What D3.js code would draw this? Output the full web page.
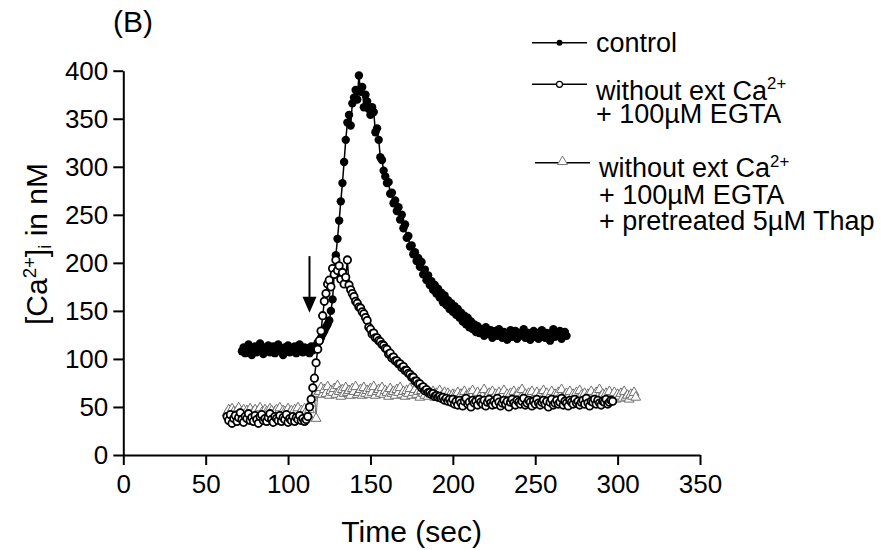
<!DOCTYPE html>
<html>
<head>
<meta charset="utf-8">
<script src="https://cdn.jsdelivr.net/npm/d3@7"></script>
<style>
  body { margin: 0; background: #fff; }
  svg { display: block; font-family: "Liberation Sans", Arial, sans-serif; }
</style>
</head>
<body>
<svg id="chart" width="881" height="550"></svg>
<script>
// axis ticks
const xTicks = [0, 50, 100, 150, 200, 250, 300, 350];
const yTicks = [0, 50, 100, 150, 200, 250, 300, 350, 400];

// sampling: one reading per second
const STEP = 1;

// control (filled circles), first reading at t = 72 s
const controlStart = 72;
const controlValues = [
  108,112,106,111,115,109,104,110,113,107,111,116,108,105,112,110,114,107,109,113,
  106,111,115,108,110,104,112,109,114,107,111,108,113,106,110,115,109,107,112,108,
  111,106,113,109,112,
  114,117,119,122,126,129,133,136,140,150,162,188,208,225,244,264,
  283,305,328,346,354,343,366,372,380,370,395,378,383,362,375,368,360,354,362,357,
  336,340,328,310,307,296,290,283,
  284,272,273,262,265,254,258,245,250,236,240,226,228,217,218,209,211,202,205,196,
  201,188,193,182,187,177,181,172,177,168,173,164,169,159,166,156,161,152,158,149,
  155,146,152,143,148,139,145,136,143,133,139,131,136,128,134,127,
  131,127,124,133,128,126,130,122,127,129,124,131,125,122,128,126,120,127,130,123,
  125,129,121,126,124,128,131,122,125,127,120,126,129,123,125,121,128,130,124,122,
  127,125,119,126,131,123,127,124,129,121,126,128,124
];

// without ext Ca2+ + 100uM EGTA (open circles), first reading at t = 63 s
const egtaStart = 63;
const egtaValues = [
  40,36,42,33,38,41,35,39,44,37,34,40,38,43,36,39,35,41,37,33,
  40,42,36,38,35,39,43,37,34,40,38,36,41,35,39,37,42,34,38,36,
  40,35,39,37,41,36,38,35,37,
  40,50,58,70,80,96,110,119,129,145,160,168,178,182,175,194,188,203,192,197,
  183,190,178,185,203,177,
  172,168,165,160,158,154,153,149,147,143,140,133,131,126,127,122,122,119,118,115,
  114,111,110,105,106,101,102,98,98,95,95,91,92,88,88,85,84,81,81,77,
  77,74,74,70,71,67,68,65,65,63,64,61,62,60,61,59,60,57,59,56,58,
  55,58,53,56,52,57,54,51,56,59,53,55,50,57,54,56,52,58,55,53,
  57,51,55,58,54,52,56,53,59,55,51,54,57,53,56,50,55,58,54,52,
  57,55,53,56,59,52,54,57,55,51,56,53,58,54,52,55,57,53,56,50,
  55,58,52,54,57,53,55,59,52,56,54,51,57,55,53,58,54,56,52,55,
  57,53,59,54,51,56,55,58,53,57,54,52,56,55,58,53,55,57,56
];

// without ext Ca2+ + EGTA + pretreated 5uM Thap (open triangles), first reading at t = 63 s
const thapStart = 63;
const thapValues = [
  44,47,42,48,45,41,46,49,43,45,47,42,46,44,48,41,45,47,43,46,
  49,44,42,47,45,43,48,46,41,45,47,44,49,42,46,45,43,48,44,46,
  42,47,45,49,43,46,44,48,45,42,
  47,54,60,63,38,64,
  66,70,63,68,64,71,62,67,65,69,63,72,66,61,68,64,70,65,67,62,
  69,66,71,63,65,68,62,70,64,67,63,69,65,71,62,66,68,64,70,63,
  67,65,61,69,64,66,62,68,65,70,63,66,61,67,64,69,62,65,68,63,
  66,60,67,64,62,68,61,65,63,66,60,64,62,67,61,63,65,59,64,62,
  60,63,
  62,58,65,60,63,57,66,61,59,64,60,67,58,62,65,59,63,61,68,57,
  62,64,59,66,60,63,58,65,61,62,67,59,63,60,64,58,66,61,62,65,
  59,68,60,63,57,64,62,66,59,61,65,60,63,58,67,61,64,59,62,66,
  60,63,57,65,61,68,59,62,64,60,66,58,63,61,65,59,67,62,60,64,
  58,63,61,66,59,62,65,60,68,61,63,57,64,60,66,59,62,65,58,63,
  61,64,59,66,60,62,58,63,61,65,60
];

// stimulus arrow: time and the value range it spans
const arrowTime = 113;
const arrowFrom = 207;
const arrowTo = 148;

const FONT = '"Liberation Sans", Arial, sans-serif';

const svg = d3.select('#chart');

const x = d3.scaleLinear().domain([0, 350]).range([123.3, 700]);
const y = d3.scaleLinear().domain([0, 400]).range([455, 70.7]);

function toSeries(start, values) {
    return values.map((v, i) => ({ t: start + i * STEP, v }));
}

const control = toSeries(controlStart, controlValues);
const egta = toSeries(egtaStart, egtaValues);
const thap = toSeries(thapStart, thapValues);

const line = d3.line().x(d => x(d.t)).y(d => y(d.v));
const triangle = d3.symbol().type(d3.symbolTriangle).size(42);

// Axes
const xAxis = svg.append('g')
    .attr('transform', `translate(0, ${y(0)})`)
    .call(d3.axisBottom(x).tickValues(xTicks).tickSize(10).tickSizeOuter(0).tickPadding(10));

const yAxis = svg.append('g')
    .attr('transform', `translate(${x(0)}, 0)`)
    .call(d3.axisLeft(y).tickValues(yTicks).tickSize(10).tickSizeOuter(0).tickPadding(5));

[xAxis, yAxis].forEach(g => {
    g.selectAll('path, line').attr('stroke', '#000').attr('stroke-width', 2);
    g.selectAll('text')
        .attr('fill', '#000')
        .attr('font-family', FONT)
        .attr('font-size', 26);
});

// Thapsigargin series (grey triangles) goes underneath
svg.append('path')
    .datum(thap)
    .attr('fill', 'none')
    .attr('stroke', '#707070')
    .attr('stroke-width', 1)
    .attr('d', line);

svg.append('g').selectAll('path')
    .data(thap)
    .enter()
    .append('path')
    .attr('transform', d => `translate(${x(d.t)}, ${y(d.v)})`)
    .attr('d', triangle)
    .attr('fill', '#fff')
    .attr('stroke', '#707070')
    .attr('stroke-width', 1);

// Control series (filled circles)
svg.append('path')
    .datum(control)
    .attr('fill', 'none')
    .attr('stroke', '#000')
    .attr('stroke-width', 1.5)
    .attr('d', line);

svg.append('g').selectAll('circle')
    .data(control)
    .enter()
    .append('circle')
    .attr('cx', d => x(d.t))
    .attr('cy', d => y(d.v))
    .attr('r', 4.2)
    .attr('fill', '#000');

// EGTA series (open circles)
svg.append('path')
    .datum(egta)
    .attr('fill', 'none')
    .attr('stroke', '#000')
    .attr('stroke-width', 1.5)
    .attr('d', line);

svg.append('g').selectAll('circle')
    .data(egta)
    .enter()
    .append('circle')
    .attr('cx', d => x(d.t))
    .attr('cy', d => y(d.v))
    .attr('r', 3.7)
    .attr('fill', '#fff')
    .attr('stroke', '#000')
    .attr('stroke-width', 1.8);

// Arrow marking the stimulus
const ax = x(arrowTime);
svg.append('line')
    .attr('x1', ax).attr('x2', ax)
    .attr('y1', y(arrowFrom)).attr('y2', y(arrowTo) - 12)
    .attr('stroke', '#000')
    .attr('stroke-width', 2);
svg.append('path')
    .attr('d', `M${ax - 7},${y(arrowTo) - 16} L${ax + 7},${y(arrowTo) - 16} L${ax},${y(arrowTo)} Z`)
    .attr('fill', '#000');

// Text helper: parts may be raised (sup) or lowered (sub)
function addText(parent, parts, size) {
    const t = parent.append('text')
        .attr('font-family', FONT)
        .attr('font-size', size)
        .attr('fill', '#000');
    let shift = 0;
    parts.forEach(p => {
        const span = t.append('tspan').text(p.text);
        let target = 0;
        if (p.sup) { span.attr('font-size', size * 0.62); target = -size * 0.38; }
        if (p.sub) { span.attr('font-size', size * 0.62); target = size * 0.14; }
        span.attr('dy', target - shift);
        shift = target;
    });
    return t;
}

// Axis titles
addText(svg, [{ text: 'Time (sec)' }], 30)
    .attr('x', (x(0) + x(350)) / 2)
    .attr('y', 542)
    .attr('text-anchor', 'middle');

addText(svg, [
    { text: '[Ca' }, { text: '2+', sup: true }, { text: ']' },
    { text: 'i', sub: true }, { text: ' in nM' }
], 30)
    .attr('text-anchor', 'middle')
    .attr('transform', 'translate(47, 244) rotate(-90)');

// Panel label
addText(svg, [{ text: '(B)' }], 30)
    .attr('x', 113)
    .attr('y', 32);

// Legend
const legendItems = [
    { y: 42.7, marker: 'filled', textX: 596, lines: [
        { y: 52, parts: [{ text: 'control' }] }
    ] },
    { y: 84.3, marker: 'open', textX: 596, lines: [
        { y: 99.5, parts: [{ text: 'without ext Ca' }, { text: '2+', sup: true }] },
        { y: 123, parts: [{ text: '+ 100µM EGTA' }] }
    ] },
    { y: 162.7, marker: 'triangle', textX: 599, lines: [
        { y: 177, parts: [{ text: 'without ext Ca' }, { text: '2+', sup: true }] },
        { y: 203.5, parts: [{ text: '+ 100µM EGTA' }] },
        { y: 230, parts: [{ text: '+ pretreated 5µM Thap' }] }
    ] }
];

const legend = svg.append('g');
legendItems.forEach(item => {
    const x0 = item.marker === 'triangle' ? 535 : 532;
    const x1 = x0 + 55;
    const mx = (x0 + x1) / 2;
    legend.append('line')
        .attr('x1', x0).attr('x2', x1)
        .attr('y1', item.y).attr('y2', item.y)
        .attr('stroke', '#000')
        .attr('stroke-width', 1.5);
    if (item.marker === 'filled') {
        legend.append('circle').attr('cx', mx).attr('cy', item.y).attr('r', 3).attr('fill', '#000');
    } else if (item.marker === 'open') {
        legend.append('circle').attr('cx', mx).attr('cy', item.y).attr('r', 3)
            .attr('fill', '#fff').attr('stroke', '#000').attr('stroke-width', 1.2);
    } else {
        legend.append('path')
            .attr('transform', `translate(${mx}, ${item.y - 1})`)
            .attr('d', triangle)
            .attr('fill', '#fff').attr('stroke', '#777').attr('stroke-width', 1);
    }
    item.lines.forEach(l => {
        addText(legend, l.parts, 27).attr('x', item.textX).attr('y', l.y);
    });
});
</script>
</body>
</html>
